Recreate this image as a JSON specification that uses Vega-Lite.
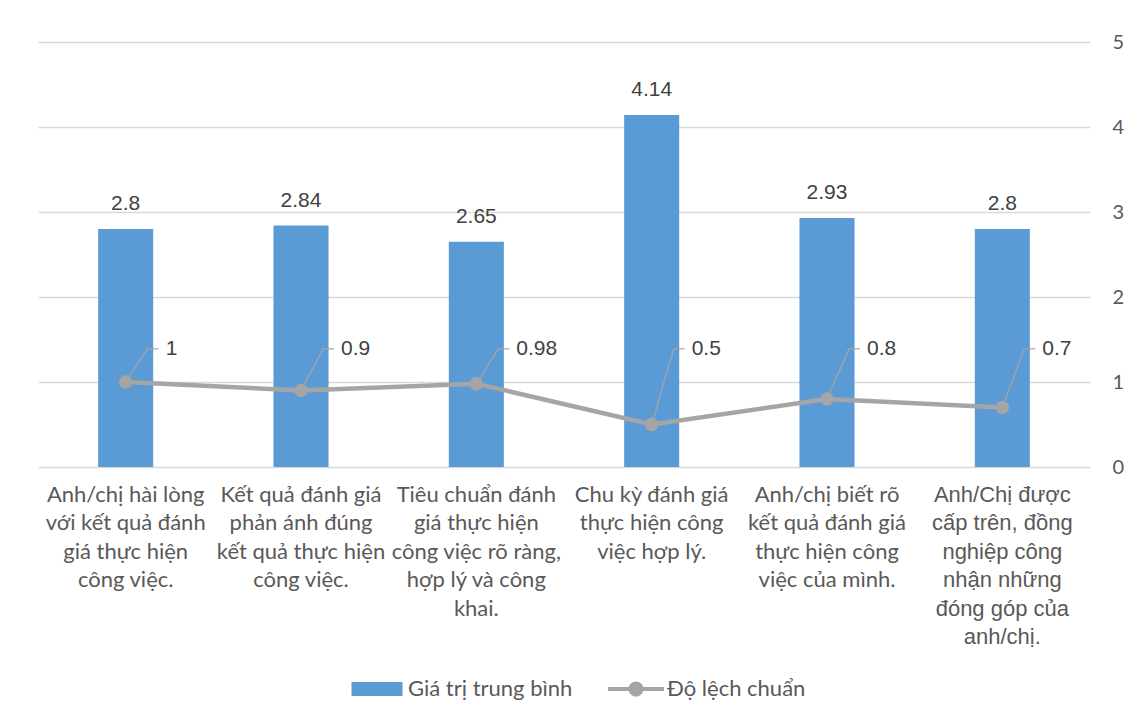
{
  "$schema": "https://vega.github.io/schema/vega-lite/v6.json",
  "width": 1052,
  "height": 425,
  "autosize": "none",
  "padding": {"left": 38, "top": 42, "right": 41, "bottom": 253},
  "background": "white",
  "config": {"view": {"stroke": null}, "font": "Lato"},
  "data": {
    "values": [
      {"cat": "Anh/chị hài lòng\nvới kết quả đánh\ngiá thực hiện\ncông việc.", "mean": 2.8, "sd": 1},
      {"cat": "Kết quả đánh giá\nphản ánh đúng\nkết quả thực hiện\ncông việc.", "mean": 2.84, "sd": 0.9},
      {"cat": "Tiêu chuẩn đánh\ngiá thực hiện\ncông việc rõ ràng,\nhợp lý và công\nkhai.", "mean": 2.65, "sd": 0.98},
      {"cat": "Chu kỳ đánh giá\nthực hiện công\nviệc hợp lý.", "mean": 4.14, "sd": 0.5},
      {"cat": "Anh/chị biết rõ\nkết quả đánh giá\nthực hiện công\nviệc của mình.", "mean": 2.93, "sd": 0.8},
      {"cat": "Anh/Chị được\ncấp trên, đồng\nnghiệp công\nnhận những\nđóng góp của\nanh/chị.", "mean": 2.8, "sd": 0.7}
    ]
  },
  "encoding": {
    "x": {
      "field": "cat",
      "type": "nominal",
      "sort": null,
      "title": null,
      "scale": {"paddingInner": 0, "paddingOuter": 0},
      "axis": {
        "domain": false,
        "ticks": false,
        "labelAngle": 0,
        "labelOverlap": false,
        "labelLimit": 400,
        "labelExpr": "split(datum.value, '\\n')",
        "labelBaseline": "top",
        "labelAlign": "center",
        "labelLineHeight": 28.5,
        "labelPadding": 17,
        "labelColor": "#595959",
        "labelFont": {"condition": {"test": "indexof(datum.value, 'Anh/Chị được') == 0", "value": "Liberation Sans"}, "value": "Lato"},
        "labelFontSize": 22
      }
    }
  },
  "layer": [
    {
      "mark": {"type": "bar", "width": {"band": 0.314}},
      "encoding": {
        "y": {
          "field": "mean",
          "type": "quantitative",
          "title": null,
          "scale": {"domain": [0, 5], "nice": false},
          "axis": {
            "orient": "right",
            "values": [0, 1, 2, 3, 4, 5],
            "format": "d",
            "grid": true,
            "gridColor": "#d9d9d9",
            "gridWidth": 1.3,
            "domain": false,
            "ticks": false,
            "labelPadding": 22,
            "labelFont": "Lato",
            "labelFontSize": 20,
            "labelColor": "#595959"
          }
        },
        "color": {
          "datum": "Giá trị trung bình",
          "type": "nominal",
          "scale": {"domain": ["Giá trị trung bình", "Độ lệch chuẩn"], "range": ["#5b9bd5", "#a5a5a5"]},
          "legend": {
            "orient": "none",
            "legendX": 311,
            "legendY": 619,
            "direction": "horizontal",
            "title": null,
            "labelFont": "Lato",
            "labelFontSize": 22,
            "labelColor": "#595959",
            "labelLimit": 400,
            "labelOffset": 3,
            "columnPadding": 35,
            "symbolSize": 3136,
            "encode": {
              "symbols": {
                "update": {
                  "shape": {"signal": "datum.value === 'Giá trị trung bình' ? 'M-0.91,-0.25H0.91V0.25H-0.91Z' : 'M-1,-0.07H1V0.07H-1Z M-0.27,0A0.27,0.27 0 1,1 0.27,0A0.27,0.27 0 1,1 -0.27,0Z'"},
                  "fill": {"scale": "color", "field": "value"},
                  "strokeWidth": {"value": 0},
                  "opacity": {"value": 1}
                }
              }
            }
          }
        }
      }
    },
    {
      "mark": {"type": "text", "font": "Liberation Sans", "fontSize": 21, "color": "#404040", "baseline": "alphabetic", "dy": -19},
      "encoding": {
        "y": {"field": "mean", "type": "quantitative"},
        "text": {"field": "mean", "type": "quantitative"}
      }
    },
    {
      "mark": {"type": "rule", "color": "#a5a5a5", "strokeWidth": 1.2, "x2Offset": 22},
      "encoding": {
        "x2": {"field": "cat"},
        "y": {"field": "sd", "type": "quantitative"},
        "y2": {"datum": 1.39}
      }
    },
    {
      "mark": {"type": "rule", "color": "#a5a5a5", "strokeWidth": 1.2, "xOffset": 22, "x2Offset": 33},
      "encoding": {
        "x2": {"field": "cat"},
        "y": {"datum": 1.39, "type": "quantitative"}
      }
    },
    {
      "mark": {"type": "line", "strokeWidth": 4.5, "point": {"filled": true, "size": 180, "opacity": 1}},
      "encoding": {
        "y": {"field": "sd", "type": "quantitative"},
        "color": {"datum": "Độ lệch chuẩn", "type": "nominal"}
      }
    },
    {
      "mark": {"type": "text", "font": "Liberation Sans", "fontSize": 21, "color": "#404040", "align": "left", "baseline": "middle", "xOffset": 40},
      "encoding": {
        "y": {"datum": 1.39, "type": "quantitative"},
        "text": {"field": "sd", "type": "quantitative"}
      }
    }
  ]
}
